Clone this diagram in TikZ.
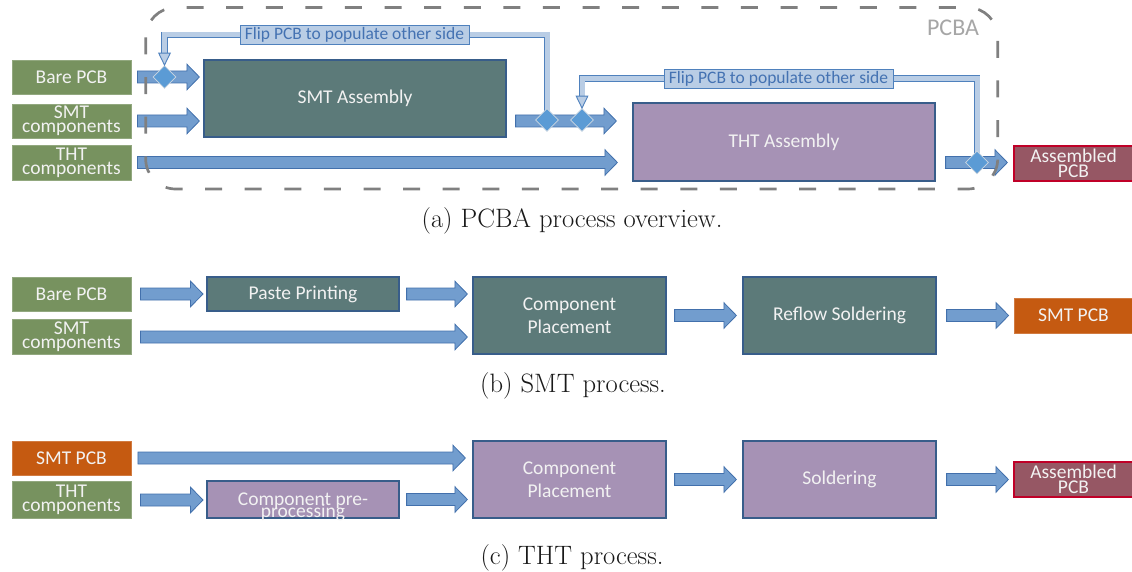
\documentclass[tikz,border=0pt]{standalone}
\usepackage{fontspec}
\newfontfamily\boxfont{Carlito}
\usetikzlibrary{shapes.geometric,calc}

\definecolor{greenfill}{RGB}{119,146,95}
\definecolor{tealfill}{RGB}{92,122,121}
\definecolor{purplefill}{RGB}{166,146,181}
\definecolor{orangefill}{RGB}{197,90,17}
\definecolor{rosefill}{RGB}{150,87,100}
\definecolor{roseline}{RGB}{192,0,40}
\definecolor{boxline}{RGB}{56,93,138}
\definecolor{arrowfill}{RGB}{114,157,206}
\definecolor{arrowline}{RGB}{66,112,172}
\definecolor{flipfill}{RGB}{185,205,229}
\definecolor{flipline}{RGB}{79,129,189}
\definecolor{fliptext}{RGB}{68,114,178}
\definecolor{diamondfill}{RGB}{91,155,213}
\definecolor{diamondline}{RGB}{205,215,225}
\definecolor{framegray}{RGB}{128,128,128}
\definecolor{labelgray}{RGB}{166,166,166}
\definecolor{captext}{RGB}{25,25,25}

\pgfdeclarelayer{arrowlayer}
\pgfdeclarelayer{shaftlayer}
\pgfsetlayers{arrowlayer,shaftlayer,main}

\begin{document}
\begin{tikzpicture}[x=1pt,y=-1pt,
  box/.style={rectangle, inner sep=0pt, line width=1.2pt, text=white!95!black,
    align=center, font=\boxfont\fontsize{19.5}{23.4}\selectfont},
  sz/.style 2 args={minimum width=#1pt, minimum height=#2pt},
  src/.style={box, fill=greenfill, draw=greenfill!80!white, line width=0.8pt},
  teal/.style={box, fill=tealfill, draw=boxline},
  purple/.style={box, fill=purplefill, draw=boxline},
  orange/.style={box, fill=orangefill, draw=orangefill!80!white, line width=0.8pt},
  rose/.style={box, fill=rosefill, draw=roseline},
  fat/.style={fill=arrowfill, draw=arrowline, line width=0.8pt, line join=miter,
    to path={let \p1=(\tikztostart), \p2=(\tikztotarget) in
      (\x1,\y1+6pt) -- (\x2-12.5pt,\y1+6pt) -- (\x2-12.5pt,\y1+12.8pt) -- (\x2,\y1)
      -- (\x2-12.5pt,\y1-12.8pt) -- (\x2-12.5pt,\y1-6pt) -- (\x1,\y1-6pt) -- cycle}},
  dia/.style={diamond, aspect=1, minimum width=23pt, minimum height=23pt, inner sep=0pt,
    fill=diamondfill, draw=diamondline, line width=0.8pt},
  flipshaft/.style={draw=flipline, line width=0.9pt, double=flipfill,
    double distance=5pt, line join=miter},
  fliphead/.style={fill=flipfill, draw=flipline, line width=0.9pt, line join=miter},
  fliplabel/.style={rectangle, fill=flipfill, draw=flipline, line width=0.9pt,
    text=fliptext, font=\boxfont\fontsize{17.5}{20}\selectfont,
    minimum width=229pt, minimum height=19pt, inner sep=0pt},
  caption/.style={anchor=base, text=captext, font=\fontsize{26.6}{32}\selectfont}
]
\useasboundingbox (0,0) rectangle (1132,572);

% ---------------- PCBA overview ----------------
\draw[framegray, line width=2.7pt, dash pattern=on 17pt off 22.6pt, rounded corners=30pt]
  (145.7,7.5) rectangle (997.7,189);
\node[anchor=base, text=labelgray, font=\boxfont\fontsize{24}{28}\selectfont] (pcba) at (953,36) {PCBA};

\node[src, sz={119}{34}] (bare1) at (71.5,77) {Bare PCB};
\node[src, sz={119}{34}] (smtc1) at (71.5,121) {SMT\\[-9.5pt]components};
\node[src, sz={119}{35}] (thtc1) at (71.5,162.5) {THT\\[-9.5pt]components};
\node[teal, sz={302}{77}] (smtasm) at (355,98.5) {SMT Assembly};
\node[purple, sz={302}{78}] (thtasm) at (784,142) {THT Assembly};
\node[rose, sz={119}{35}] (ass1) at (1073.5,163.5) {Assembled\\[-8.4pt]PCB};

\begin{pgfonlayer}{arrowlayer}
\draw[fat] ([xshift=6pt]bare1.east) to ([xshift=-4pt]smtasm.west);
\draw[fat] ([xshift=6pt]smtc1.east) to ([xshift=-4pt]smtasm.west);
\draw[fat] ([xshift=6pt]thtc1.east) to ([xshift=-15pt]thtasm.west);
\draw[fat] ([xshift=9pt]smtasm.east |- smtc1) to ([xshift=-16pt]thtasm.west);
\draw[fat] ([xshift=10pt]thtasm.east |- thtc1) to ([xshift=-6pt]ass1.west);
\end{pgfonlayer}

% flip points on the board path
\node[dia] (d1) at (164.5,77) {};
\node[dia] (d2) at (547,120) {};
\node[dia] (d3) at (582,120) {};
\node[dia] (d4) at (977,162.5) {};

\draw[fliphead] (d1.north) -- ++(-5.8pt,12pt) -- ++(11.6pt,0pt) -- cycle;
\draw[fliphead] (d3.north) -- ++(-5.8pt,12pt) -- ++(11.6pt,0pt) -- cycle;

\node[fliplabel] (f1) at (354.5,35) {Flip PCB to populate other side};
\node[fliplabel] (f2) at (778.5,78.5) {Flip PCB to populate other side};

\begin{pgfonlayer}{shaftlayer}
\draw[flipshaft] (d2.center) -- (d2 |- f1) -- (d1 |- f1) -- ([yshift=12pt]d1.north);
\draw[flipshaft] (d4.center) -- (d4 |- f2) -- (d3 |- f2) -- ([yshift=12pt]d3.north);
\end{pgfonlayer}

\node[caption] (capa) at (572,228) {(a) PCBA process overview.};

% ---------------- SMT process ----------------
\node[src, sz={119}{34}] (bare2) at (71.5,294) {Bare PCB};
\node[src, sz={119}{35}] (smtc2) at (71.5,337) {SMT\\[-9.5pt]components};
\node[teal, sz={192}{34}] (paste) at (303,294) {Paste Printing};
\node[teal, sz={193}{77}] (cp2) at (569.5,315.5) {Component\\Placement};
\node[teal, sz={193}{77}] (reflow) at (839.5,315.5) {Reflow Soldering};
\node[orange, sz={119}{35}] (smtpcb2) at (1073.5,315.5) {SMT PCB};

\begin{pgfonlayer}{arrowlayer}
\draw[fat] ([xshift=9pt]bare2.east) to ([xshift=-3.4pt]paste.west);
\draw[fat] ([xshift=7pt]paste.east) to ([xshift=-5pt]cp2.west);
\draw[fat] ([xshift=9pt]smtc2.east) to ([xshift=-5pt]cp2.west);
\draw[fat] ([xshift=8pt]cp2.east) to ([xshift=-6pt]reflow.west);
\draw[fat] ([xshift=10pt]reflow.east) to ([xshift=-5pt]smtpcb2.west);
\end{pgfonlayer}

\node[caption] (capb) at (573,392) {(b) SMT process.};

% ---------------- THT process ----------------
\node[orange, sz={119}{34}] (smtpcb3) at (71.5,458) {SMT PCB};
\node[src, sz={119}{37}] (thtc3) at (71.5,500) {THT\\[-9.5pt]components};
\node[purple, sz={192}{37}] (pre) at (303,499.5) {};
\node[box, inner sep=0pt] (pretext) at (303,507) {Component pre-\\[-11.4pt]processing};
\node[purple, sz={193}{77}] (cp3) at (569.5,479.5) {Component\\Placement};
\node[purple, sz={193}{77}] (sold) at (839.5,479.5) {Soldering};
\node[rose, sz={119}{35}] (ass3) at (1073.5,479.5) {Assembled\\[-8.4pt]PCB};

\begin{pgfonlayer}{arrowlayer}
\draw[fat] ([xshift=6.5pt]smtpcb3.east) to ([xshift=-7pt]cp3.west);
\draw[fat] ([xshift=9pt]thtc3.east) to ([xshift=-3.4pt]pre.west);
\draw[fat] ([xshift=7pt]pre.east) to ([xshift=-5pt]cp3.west);
\draw[fat] ([xshift=8pt]cp3.east) to ([xshift=-6pt]sold.west);
\draw[fat] ([xshift=10pt]sold.east) to ([xshift=-5pt]ass3.west);
\end{pgfonlayer}

\node[caption] (capc) at (572,564) {(c) THT process.};
\end{tikzpicture}
\end{document}
